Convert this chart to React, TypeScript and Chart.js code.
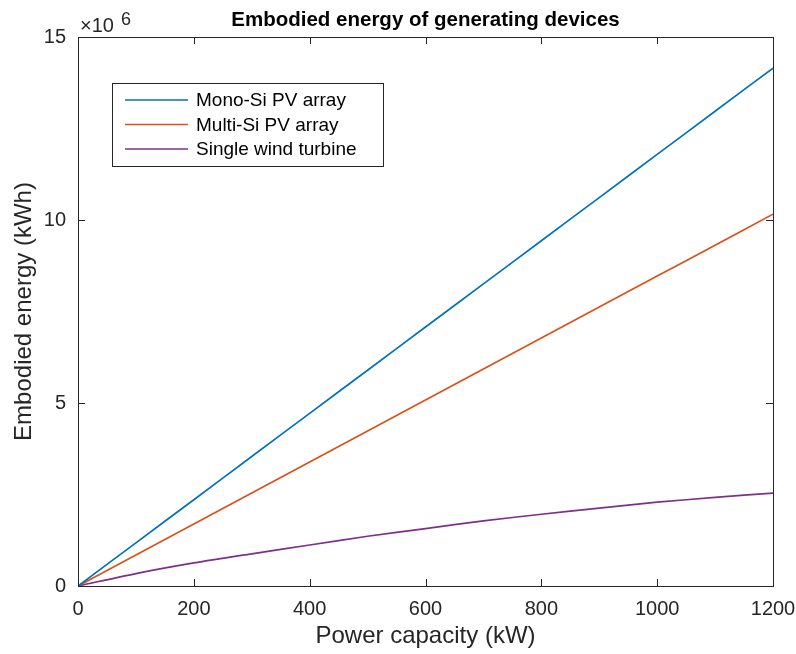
import React, { useEffect, useRef } from "react";
import { Chart, registerables } from "chart.js";

Chart.register(...registerables);

// Power capacity (kW)
const powerKW = [0, 100, 200, 300, 400, 500, 600, 700, 800, 900, 1000, 1100, 1200];
// Embodied energy (kWh)
const monoSi = [0, 1.179e6, 2.358e6, 3.538e6, 4.717e6, 5.896e6, 7.075e6, 8.254e6, 9.433e6, 10.613e6, 11.792e6, 12.971e6, 14.15e6];
const multiSi = [0, 0.847e6, 1.693e6, 2.54e6, 3.387e6, 4.233e6, 5.08e6, 5.927e6, 6.773e6, 7.62e6, 8.467e6, 9.313e6, 10.16e6];
const wind = [0, 0.34e6, 0.63e6, 0.88e6, 1.12e6, 1.36e6, 1.57e6, 1.78e6, 1.96e6, 2.13e6, 2.29e6, 2.42e6, 2.54e6];

const seriesNames = ["Mono-Si PV array", "Multi-Si PV array", "Single wind turbine"];
const seriesColors = ["#0072BD", "#D95319", "#7E2F8E"];
const xTicks = [0, 200, 400, 600, 800, 1000, 1200];
const yTicks = [0, 5e6, 10e6, 15e6];

const chartTitle = "Embodied energy of generating devices";
const xTitle = "Power capacity (kW)";
const yTitle = "Embodied energy (kWh)";

const FONT = "'Liberation Sans', Arial, Helvetica, sans-serif";
const AXIS = "#262626";

const decorPlugin = {
  id: "matlabDecor",
  afterDraw(chart: any) {
    const { ctx, chartArea } = chart;
    const { left, right, top, bottom } = chartArea;
    const xs = chart.scales.x;
    const ys = chart.scales.y;
    ctx.save();
    // box
    ctx.strokeStyle = AXIS;
    ctx.lineWidth = 1;
    ctx.strokeRect(Math.round(left) + 0.5, Math.round(top) + 0.5, Math.round(right - left), Math.round(bottom - top));
    // ticks inward
    const tl = 7;
    ctx.beginPath();
    xTicks.forEach((v) => {
      const px = Math.round(xs.getPixelForValue(v)) + 0.5;
      ctx.moveTo(px, bottom);
      ctx.lineTo(px, bottom - tl);
      ctx.moveTo(px, top);
      ctx.lineTo(px, top + tl);
    });
    yTicks.forEach((v) => {
      const py = Math.round(ys.getPixelForValue(v)) + 0.5;
      ctx.moveTo(left, py);
      ctx.lineTo(left + tl, py);
      ctx.moveTo(right, py);
      ctx.lineTo(right - tl, py);
    });
    ctx.stroke();

    // title
    ctx.fillStyle = "#000000";
    ctx.font = `bold 20.5px ${FONT}`;
    ctx.textAlign = "center";
    ctx.textBaseline = "alphabetic";
    ctx.fillText(chartTitle, (left + right) / 2, 26);

    // exponent label
    ctx.fillStyle = AXIS;
    ctx.textAlign = "left";
    ctx.font = `20px ${FONT}`;
    ctx.fillText("\u00d710", 80, 32);
    ctx.font = `18px ${FONT}`;
    ctx.fillText("6", 121, 25);

    // axis titles
    ctx.font = `24px ${FONT}`;
    ctx.textAlign = "center";
    ctx.textBaseline = "middle";
    ctx.fillText(xTitle, (left + right) / 2, 636);
    ctx.save();
    ctx.translate(24, (top + bottom) / 2);
    ctx.rotate(-Math.PI / 2);
    ctx.fillText(yTitle, 0, 0);
    ctx.restore();

    // legend
    const lx = 112.5, ly = 83.5, lw = 271, lh = 83;
    ctx.fillStyle = "#ffffff";
    ctx.fillRect(lx, ly, lw, lh);
    ctx.strokeStyle = AXIS;
    ctx.lineWidth = 1;
    ctx.strokeRect(lx, ly, lw, lh);
    ctx.font = `19px ${FONT}`;
    ctx.textAlign = "left";
    ctx.textBaseline = "middle";
    chart.data.datasets.forEach((ds: any, i: number) => {
      const cy = 100 + i * 24.5;
      ctx.strokeStyle = ds.borderColor;
      ctx.lineWidth = 1.6;
      ctx.beginPath();
      ctx.moveTo(125, cy);
      ctx.lineTo(188, cy);
      ctx.stroke();
      ctx.fillStyle = "#000000";
      ctx.fillText(ds.label, 196, cy + 1);
    });
    ctx.restore();
  },
};

export default function App() {
  const ref = useRef<HTMLCanvasElement | null>(null);
  useEffect(() => {
    if (!ref.current) return;
    const mk = (vals: number[]) => powerKW.map((x, i) => ({ x, y: vals[i] }));
    const chart = new Chart(ref.current, {
      type: "line",
      data: {
        datasets: [monoSi, multiSi, wind].map((vals, i) => ({
          label: seriesNames[i],
          data: mk(vals),
          borderColor: seriesColors[i],
          backgroundColor: seriesColors[i],
          borderWidth: 1.7,
          pointRadius: 0,
          tension: 0.3,
          fill: false,
        })),
      },
      options: {
        responsive: false,
        animation: false,
        devicePixelRatio: 1,
        layout: { padding: { top: 37, right: 23, left: 0, bottom: 0 } },
        plugins: {
          legend: { display: false },
          title: { display: false },
          tooltip: { enabled: false },
        },
        scales: {
          x: {
            type: "linear",
            min: 0,
            max: 1200,
            afterFit: (s: any) => {
              s.height = 68;
              s.paddingLeft = 0;
              s.paddingRight = 0;
            },
            afterBuildTicks: (s: any) => {
              s.ticks = xTicks.map((v) => ({ value: v }));
            },
            grid: { display: false, drawTicks: false },
            border: { display: false },
            ticks: {
              padding: 11,
              color: AXIS,
              font: { family: FONT, size: 20 },
              maxRotation: 0,
              autoSkip: false,
              callback: (v: any) => String(v),
            },
          },
          y: {
            type: "linear",
            min: 0,
            max: 15e6,
            afterFit: (s: any) => {
              s.width = 78;
              s.paddingTop = 0;
              s.paddingBottom = 0;
            },
            afterBuildTicks: (s: any) => {
              s.ticks = yTicks.map((v) => ({ value: v }));
            },
            grid: { display: false, drawTicks: false },
            border: { display: false },
            ticks: {
              padding: 12,
              color: AXIS,
              font: { family: FONT, size: 20 },
              callback: (v: any) => String(Number(v) / 1e6),
              autoSkip: false,
            },
          },
        },
      },
      plugins: [decorPlugin],
    });
    return () => chart.destroy();
  }, []);
  return (
    <div style={{ position: "fixed", left: 0, top: 0, width: 796, height: 654, background: "#fff" }}>
      <canvas ref={ref} width={796} height={654} style={{ display: "block" }} />
    </div>
  );
}
